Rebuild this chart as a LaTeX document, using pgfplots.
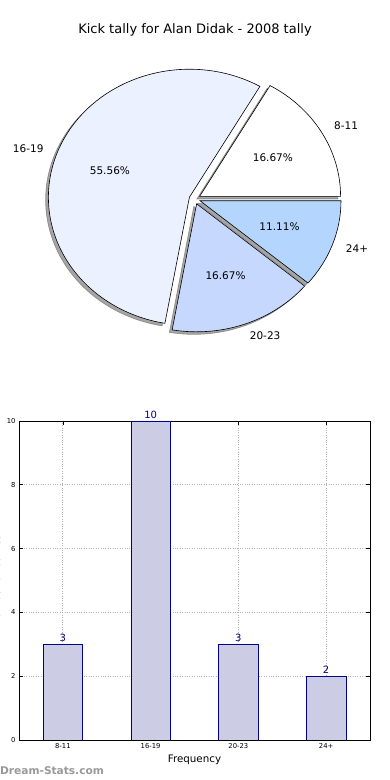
\documentclass[border=0pt]{standalone}
\usepackage{pgfplots}
\pgfplotsset{compat=1.18}
\usepackage{fontspec}
\setmainfont{DejaVu Sans}
\definecolor{c1}{HTML}{FFFFFF}
\definecolor{c2}{HTML}{EBF1FE}
\definecolor{c3}{HTML}{C6D8FE}
\definecolor{c4}{HTML}{B4D6FE}
\definecolor{barfill}{HTML}{CCCCE5}
\definecolor{baredge}{HTML}{00008B}
\definecolor{wm}{HTML}{999999}

% pie helpers: arguments are cumulative counts (total 18 games -> 20 degrees per game)
\newcommand\pieshadow[2]{%
  \filldraw[fill=black!70, draw=black!70, line width=0.6pt, opacity=0.5]
    (axis cs:{0.04*cos(10*(#1+#2))-0.02},{0.04*sin(10*(#1+#2))-0.02})
    -- (axis cs:{0.04*cos(10*(#1+#2))-0.02+cos(20*#1)},{0.04*sin(10*(#1+#2))-0.02+sin(20*#1)})
    arc[start angle={20*#1}, end angle={20*#2}, x radius=141pt, y radius=128pt] -- cycle;}
\newcommand\pieslice[3]{%
  \filldraw[fill=#3, draw=black, line width=0.6pt]
    (axis cs:{0.04*cos(10*(#1+#2))},{0.04*sin(10*(#1+#2))})
    -- (axis cs:{0.04*cos(10*(#1+#2))+cos(20*#1)},{0.04*sin(10*(#1+#2))+sin(20*#1)})
    arc[start angle={20*#1}, end angle={20*#2}, x radius=141pt, y radius=128pt] -- cycle;}
\newcommand\pielabel[5]{%
  \node[anchor=#5, inner sep=0pt, font=\fontsize{10.5}{12}\selectfont]
    at (axis cs:{1.14*cos(10*(#1+#2))},{1.14*sin(10*(#1+#2))}) {#3};
  \node[inner sep=0pt, font=\fontsize{10.5}{12}\selectfont]
    at (axis cs:{0.64*cos(10*(#1+#2))},{0.64*sin(10*(#1+#2))}) {#4};}

\begin{document}
\begin{tikzpicture}
\useasboundingbox (0pt,0pt) rectangle (390pt,780pt);
\node[font=\fontsize{13}{15}\selectfont] at (195pt,750pt) {Kick tally for Alan Didak - 2008 tally};

\begin{axis}[at={(194.7pt,581pt)}, anchor=center, x=141pt, y=128pt,
  xmin=-1.4, xmax=1.4, ymin=-1.4, ymax=1.4, hide axis, clip=false]
  % counts: 8-11 = 3, 16-19 = 10, 20-23 = 3, 24+ = 2
  \pieshadow{0}{3}
  \pieshadow{3}{13}
  \pieshadow{13}{16}
  \pieshadow{16}{18}
  \pieslice{0}{3}{c1}
  \pieslice{3}{13}{c2}
  \pieslice{13}{16}{c3}
  \pieslice{16}{18}{c4}
  \pielabel{0}{3}{8-11}{16.67\%}{west}
  \pielabel{3}{13}{16-19}{55.56\%}{east}
  \pielabel{13}{16}{20-23}{16.67\%}{west}
  \pielabel{16}{18}{24+}{11.11\%}{west}
\end{axis}

\begin{axis}[at={(19pt,40pt)}, anchor=south west, scale only axis,
  width=351pt, height=319pt,
  xmin=-0.5, xmax=3.5, ymin=0, ymax=10,
  xtick={0,1,2,3}, xticklabels={8-11,16-19,20-23,24+},
  ytick={0,2,4,6,8,10},
  ybar, bar width=0.45,
  grid=major, grid style={dotted, gray!60, line width=0.8pt},
  tick align=inside, xtick pos=both, ytick pos=both,
  major tick length=4pt, tick style={black, line width=0.6pt},
  axis line style={line width=0.8pt},
  tick label style={font=\fontsize{6.8}{8}\selectfont},
  /pgf/number format/assume math mode=true,
  xlabel={Frequency},
  xlabel style={font=\fontsize{10.3}{12}\selectfont, at={(axis description cs:0.5,-0.063)}, anchor=center},
  ylabel={Number of Games},
  ylabel style={font=\fontsize{10}{12}\selectfont, at={(axis description cs:-0.043,0.5)}, anchor=south},
  nodes near coords,
  nodes near coords style={text=baredge, font=\fontsize{10}{12}\selectfont, inner sep=2pt},
]
\addplot[fill=barfill, draw=baredge, line width=0.7pt] coordinates {(0,3) (1,10) (2,3) (3,2)};
\end{axis}

\node[anchor=west, inner sep=0pt, text=wm, font=\bfseries\fontsize{10.6}{12}\selectfont] at (0pt,9pt) {Dream-Stats.com};
\end{tikzpicture}
\end{document}
